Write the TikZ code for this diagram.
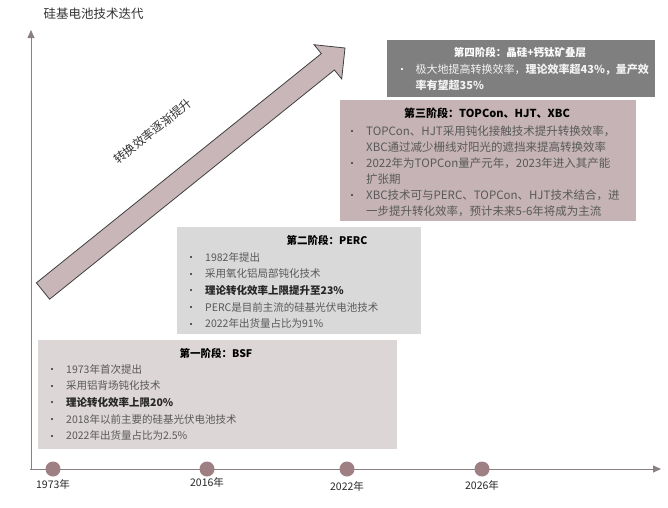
\documentclass[tikz,border=0pt]{standalone}
\usepackage{fontspec}
\setmainfont{Noto Sans CJK SC}
\usetikzlibrary{arrows.meta}
\definecolor{axisc}{HTML}{8A7F82}
\definecolor{dotc}{HTML}{9E7F84}
\definecolor{arrc}{HTML}{C8B6B8}
\definecolor{bsfc}{HTML}{DDD6D7}
\definecolor{percc}{HTML}{D9D9D9}
\definecolor{topc}{HTML}{C5B3B5}
\definecolor{perc}{HTML}{7F7F7F}
\definecolor{txtc}{HTML}{595959}
\newcommand{\bl}[1][17pt]{\makebox[#1][l]{\hspace{2pt}\rule[3pt]{2pt}{2pt}}}
\newcommand{\ct}[1][17pt]{\hspace*{#1}}
\newcommand{\hl}[1]{\textbf{\color{black!85}#1}}

\begin{document}
\begin{tikzpicture}[x = 1pt, y = -1pt,
  box/.style = {anchor = north west, inner sep = 0, outer sep = 0},
  ttl/.style = {font = \bfseries\fontsize{10.5}{12}\selectfont, text = black},
  lst/.style = {anchor = base west, inner sep = 0, text = txtc},
  yr/.style = {font = \fontsize{10.5}{12}\selectfont, text = black!85},
  dot/.style = {circle, fill = dotc, minimum size = 15pt, inner sep = 0},
  axis/.style = {draw = axisc, line width = 0.8pt, -{Triangle[length = 8pt, width = 7pt]}}]
\useasboundingbox (0,0) rectangle (668,507);
\node[anchor = west, font = \fontsize{12.5}{14}\selectfont, text = black!80] (T) at (40,14) {硅基电池技术迭代};
\coordinate (O) at (30,469);
\coordinate (Y) at (31,30);
\coordinate (X) at (661,469);
\draw[axis] (O -| Y) -- (Y);
\draw[axis] (O) -- (X);
\foreach \x/\n/\yl/\t in {53/D1/484/1973, 207/D2/482/2016, 347/D3/486/2022, 482/D4/485/2026}{
  \node[dot] (\n) at (\x,469) {};
  \node[yr] (Y\n) at (\x,\yl) {\t 年};
}
\draw[fill = arrc, draw = black!75, line width = 0.8pt, line join = miter]
  (36.4,282.8) -- (321.3,53.6) -- (314.1,44.7) -- (345,48) -- (341.7,78.9) -- (334.4,70.0) -- (49.6,299.2) -- cycle;
\node[rotate = 38.8, font = \fontsize{12}{13}\selectfont, text = black!80] (A) at (153,131) {转换效率逐渐提升};
\node[box, fill = bsfc, minimum width = 359pt, minimum height = 109pt] (B1) at (38,340) {};
\node[box, fill = percc, minimum width = 244pt, minimum height = 107pt] (B2) at (177,227) {};
\node[box, fill = topc, minimum width = 296pt, minimum height = 121pt] (B3) at (340,100) {};
\node[box, fill = perc, minimum width = 268pt, minimum height = 57pt] (B4) at (387,40) {};
\node[ttl] (H1) at (216,353) {第一阶段：BSF};
\node[ttl] (H2) at (327,240) {第二阶段：PERC};
\node[ttl, font = \bfseries\fontsize{11}{12}\selectfont] (H3) at (487,113) {第三阶段：TOPCon、HJT、XBC};
\node[ttl, text = white] (H4) at (520,52) {第四阶段：晶硅+钙钛矿叠层};
\node[lst, font = \fontsize{10.5}{16.7}\selectfont] (L1) at (49,373) {\begin{tabular}[t]{@{}l@{}}
  \bl 1973年首次提出\\
  \bl 采用铝背场钝化技术\\
  \bl \hl{理论转化效率上限20\%}\\
  \bl 2018年以前主要的硅基光伏电池技术\\
  \bl 2022年出货量占比为2.5\%
\end{tabular}};
\node[lst, font = \fontsize{10.5}{16.7}\selectfont] (L2) at (188,261) {\begin{tabular}[t]{@{}l@{}}
  \bl 1982年提出\\
  \bl 采用氧化铝局部钝化技术\\
  \bl \hl{理论转化效率上限提升至23\%}\\
  \bl PERC是目前主流的硅基光伏电池技术\\
  \bl 2022年出货量占比为91\%
\end{tabular}};
\node[lst, font = \fontsize{11.5}{16}\selectfont] (L3) at (349,135) {\begin{tabular}[t]{@{}l@{}}
  \bl TOPCon、HJT采用钝化接触技术提升转换效率，\\
  \ct XBC通过减少栅线对阳光的遮挡来提高转换效率\\
  \bl 2022年为TOPCon量产元年，2023年进入其产能\\
  \ct 扩张期\\
  \bl XBC技术可与PERC、TOPCon、HJT技术结合，进\\
  \ct 一步提升转化效率，预计未来5-6年将成为主流
\end{tabular}};
\node[lst, text = white!95!black, font = \fontsize{11}{16}\selectfont] (L4) at (399,73) {\begin{tabular}[t]{@{}l@{}}
  \bl[14pt] 极大地提高转换效率，\textbf{理论效率超43\%，量产效}\\
  \ct[14pt] \textbf{率有望超35\%}
\end{tabular}};
\end{tikzpicture}
\end{document}
